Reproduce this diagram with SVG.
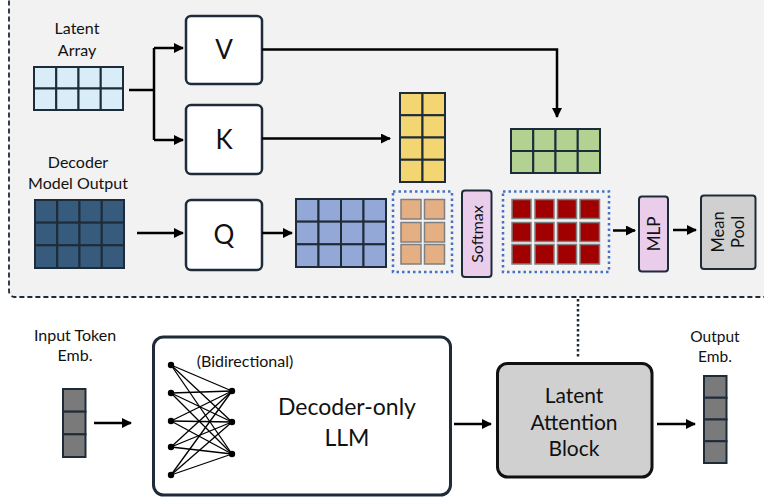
<svg xmlns="http://www.w3.org/2000/svg" width="764" height="499" viewBox="0 0 764 499">
<defs>
<marker id="ah" viewBox="0 0 10 10" refX="9" refY="5" markerWidth="4" markerHeight="4" orient="auto" markerUnits="strokeWidth">
<path d="M0,0 L10,5 L0,10 Z" fill="#000"/>
</marker>
<style>
.t{font-family:Lato,"Open Sans","Liberation Sans",sans-serif;fill:#111;text-anchor:middle}
.box{fill:#fff;stroke:#1e2b38;stroke-width:2.5}
.c{stroke:#1e2b38;stroke-width:2}
.lat{fill:#d9edf9}
.dk{fill:#365b7c}
.bl{fill:#94a8d8}
.ye{fill:#f3d672}
.gr{fill:#b3d190}
.gy{fill:#7a7a7a}
.or{fill:#e4af82;stroke:#7f7f7f;stroke-width:1.5}
.rd{fill:#a00000;stroke:#7f7f7f;stroke-width:1.5}
.dot{fill:none;stroke:#4472c4;stroke-width:2.5;stroke-dasharray:2.5 3}
.pk{fill:#e9cdea;stroke:#1e2b38;stroke-width:2}
.ln{fill:none;stroke:#000;stroke-width:2.5}
.net{stroke:#000;stroke-width:1.3}
</style>
</defs>
<rect x="9" y="-6" width="770" height="303" rx="6" fill="#f2f2f2" stroke="#1e2b38" stroke-width="1.8" stroke-dasharray="5 3"/>

<g id="latent-array">
<text class="t" x="77" y="34" font-size="16">Latent</text>
<text class="t" x="77" y="56" font-size="16">Array</text>
<g class="lat c">
<rect x="34" y="67" width="22.25" height="21.5"/><rect x="56.25" y="67" width="22.25" height="21.5"/><rect x="78.5" y="67" width="22.25" height="21.5"/><rect x="100.75" y="67" width="22.25" height="21.5"/>
<rect x="34" y="88.5" width="22.25" height="21.5"/><rect x="56.25" y="88.5" width="22.25" height="21.5"/><rect x="78.5" y="88.5" width="22.25" height="21.5"/><rect x="100.75" y="88.5" width="22.25" height="21.5"/>
</g>
</g>

<g id="decoder-output">
<text class="t" x="78" y="168" font-size="16">Decoder</text>
<text class="t" x="78" y="189" font-size="16">Model Output</text>
<g class="dk c">
<rect x="35" y="200" width="22.25" height="22.67"/><rect x="57.25" y="200" width="22.25" height="22.67"/><rect x="79.5" y="200" width="22.25" height="22.67"/><rect x="101.75" y="200" width="22.25" height="22.67"/>
<rect x="35" y="222.67" width="22.25" height="22.67"/><rect x="57.25" y="222.67" width="22.25" height="22.67"/><rect x="79.5" y="222.67" width="22.25" height="22.67"/><rect x="101.75" y="222.67" width="22.25" height="22.67"/>
<rect x="35" y="245.33" width="22.25" height="22.67"/><rect x="57.25" y="245.33" width="22.25" height="22.67"/><rect x="79.5" y="245.33" width="22.25" height="22.67"/><rect x="101.75" y="245.33" width="22.25" height="22.67"/>
</g>
</g>

<g id="V"><rect class="box" x="186" y="16" width="76" height="68" rx="5"/><text class="t" x="224" y="59" font-size="26">V</text></g>
<g id="K"><rect class="box" x="186" y="105" width="76" height="69" rx="5"/><text class="t" x="224" y="149" font-size="26">K</text></g>
<g id="Q"><rect class="box" x="186" y="200" width="76" height="70" rx="5"/><text class="t" x="224" y="244" font-size="26">Q</text></g>

<g id="Q-out" class="bl c">
<rect x="296" y="199" width="22.5" height="22.67"/><rect x="318.5" y="199" width="22.5" height="22.67"/><rect x="341" y="199" width="22.5" height="22.67"/><rect x="363.5" y="199" width="22.5" height="22.67"/>
<rect x="296" y="221.67" width="22.5" height="22.67"/><rect x="318.5" y="221.67" width="22.5" height="22.67"/><rect x="341" y="221.67" width="22.5" height="22.67"/><rect x="363.5" y="221.67" width="22.5" height="22.67"/>
<rect x="296" y="244.33" width="22.5" height="22.67"/><rect x="318.5" y="244.33" width="22.5" height="22.67"/><rect x="341" y="244.33" width="22.5" height="22.67"/><rect x="363.5" y="244.33" width="22.5" height="22.67"/>
</g>

<g id="K-out" class="ye c">
<rect x="400" y="93" width="22.5" height="22.25"/><rect x="422.5" y="93" width="22.5" height="22.25"/>
<rect x="400" y="115.25" width="22.5" height="22.25"/><rect x="422.5" y="115.25" width="22.5" height="22.25"/>
<rect x="400" y="137.5" width="22.5" height="22.25"/><rect x="422.5" y="137.5" width="22.5" height="22.25"/>
<rect x="400" y="159.75" width="22.5" height="22.25"/><rect x="422.5" y="159.75" width="22.5" height="22.25"/>
</g>

<g id="V-out" class="gr c">
<rect x="511" y="129" width="22.25" height="22"/><rect x="533.25" y="129" width="22.25" height="22"/><rect x="555.5" y="129" width="22.25" height="22"/><rect x="577.75" y="129" width="22.25" height="22"/>
<rect x="511" y="151" width="22.25" height="22"/><rect x="533.25" y="151" width="22.25" height="22"/><rect x="555.5" y="151" width="22.25" height="22"/><rect x="577.75" y="151" width="22.25" height="22"/>
</g>

<g id="attn-scores">
<rect class="dot" x="393" y="191.5" width="59" height="80.5"/>
<rect class="or" x="401" y="199.5" width="20" height="19.5"/><rect class="or" x="424.5" y="199.5" width="20" height="19.5"/>
<rect class="or" x="401" y="222.5" width="20" height="19.5"/><rect class="or" x="424.5" y="222.5" width="20" height="19.5"/>
<rect class="or" x="401" y="244.5" width="20" height="19.5"/><rect class="or" x="424.5" y="244.5" width="20" height="19.5"/>
</g>

<g id="softmax"><rect class="pk" x="462" y="190.5" width="29.5" height="86.5" rx="3"/><text class="t" transform="translate(483,234) rotate(-90)" font-size="16">Softmax</text></g>

<g id="attn-out">
<rect class="dot" x="503" y="191.5" width="106" height="80.5"/>
<rect class="rd" x="512" y="199.5" width="19" height="19"/><rect class="rd" x="535" y="199.5" width="19" height="19"/><rect class="rd" x="557.5" y="199.5" width="19" height="19"/><rect class="rd" x="580" y="199.5" width="19.5" height="19"/>
<rect class="rd" x="512" y="222.5" width="19" height="19"/><rect class="rd" x="535" y="222.5" width="19" height="19"/><rect class="rd" x="557.5" y="222.5" width="19" height="19"/><rect class="rd" x="580" y="222.5" width="19.5" height="19"/>
<rect class="rd" x="512" y="244.5" width="19" height="19.5"/><rect class="rd" x="535" y="244.5" width="19" height="19.5"/><rect class="rd" x="557.5" y="244.5" width="19" height="19.5"/><rect class="rd" x="580" y="244.5" width="19.5" height="19.5"/>
</g>

<g id="MLP"><rect class="pk" x="639" y="196.5" width="29" height="75" rx="3"/><text class="t" transform="translate(660,234) rotate(-90)" font-size="17">MLP</text></g>

<g id="mean-pool"><rect x="701" y="195.5" width="54.5" height="73.5" rx="3" fill="#d0d0d0" stroke="#1e2b38" stroke-width="2"/>
<text class="t" transform="translate(724,232) rotate(-90)" font-size="16.5">Mean</text>
<text class="t" transform="translate(744,232) rotate(-90)" font-size="16.5">Pool</text></g>

<g id="input-emb">
<text class="t" x="75" y="341" font-size="16">Input Token</text>
<text class="t" x="75" y="361" font-size="16">Emb.</text>
<g class="gy c">
<rect x="63" y="389" width="22.5" height="22.67"/><rect x="63" y="411.67" width="22.5" height="22.67"/><rect x="63" y="434.33" width="22.5" height="22.67"/>
</g>
</g>

<g id="decoder-llm">
<rect x="153.5" y="337" width="297" height="158" rx="10" fill="#fff" stroke="#1e2b38" stroke-width="3"/>
<text class="t" x="245" y="367" font-size="16">(Bidirectional)</text>
<g class="net">
<line x1="171" y1="365" x2="232" y2="391"/><line x1="171" y1="365" x2="232" y2="422"/><line x1="171" y1="365" x2="232" y2="454"/>
<line x1="171" y1="393" x2="232" y2="391"/><line x1="171" y1="393" x2="232" y2="422"/><line x1="171" y1="393" x2="232" y2="454"/>
<line x1="171" y1="421" x2="232" y2="391"/><line x1="171" y1="421" x2="232" y2="422"/><line x1="171" y1="421" x2="232" y2="454"/>
<line x1="171" y1="447" x2="232" y2="391"/><line x1="171" y1="447" x2="232" y2="422"/><line x1="171" y1="447" x2="232" y2="454"/>
<line x1="171" y1="475" x2="232" y2="391"/><line x1="171" y1="475" x2="232" y2="422"/><line x1="171" y1="475" x2="232" y2="454"/>
</g>
<g fill="#000">
<circle cx="171" cy="365" r="3.2"/><circle cx="171" cy="393" r="3.2"/><circle cx="171" cy="421" r="3.2"/><circle cx="171" cy="447" r="3.2"/><circle cx="171" cy="475" r="3.2"/>
<circle cx="232" cy="391" r="3.2"/><circle cx="232" cy="422" r="3.2"/><circle cx="232" cy="454" r="3.2"/>
</g>
<text class="t" x="347" y="415" font-size="23">Decoder-only</text>
<text class="t" x="347" y="446" font-size="23">LLM</text>
</g>

<g id="latent-attention-block">
<rect x="497.5" y="363.5" width="154.5" height="113.5" rx="10" fill="#d0d0d0" stroke="#111" stroke-width="3"/>
<text class="t" x="574" y="403" font-size="21">Latent</text>
<text class="t" x="574" y="430" font-size="21">Attention</text>
<text class="t" x="574" y="456" font-size="21">Block</text>
</g>

<g id="output-emb">
<text class="t" x="715" y="342" font-size="15.5">Output</text>
<text class="t" x="715" y="362" font-size="15.5">Emb.</text>
<g class="gy c">
<rect x="704" y="376" width="22.5" height="21.75"/><rect x="704" y="397.75" width="22.5" height="21.75"/><rect x="704" y="419.5" width="22.5" height="21.75"/><rect x="704" y="441.25" width="22.5" height="21.75"/>
</g>
</g>

<g id="connectors">
<path class="ln" d="M129,90 H154 M154,48 V140"/>
<path class="ln" d="M154,48 H183" marker-end="url(#ah)"/>
<path class="ln" d="M154,140 H183" marker-end="url(#ah)"/>
<path class="ln" d="M137,233 H183" marker-end="url(#ah)"/>
<path class="ln" d="M262,233 H292" marker-end="url(#ah)"/>
<path class="ln" d="M262,49.5 H557 V117" marker-end="url(#ah)"/>
<path class="ln" d="M262,138.5 H390" marker-end="url(#ah)"/>
<path class="ln" d="M613,230.5 H635" marker-end="url(#ah)"/>
<path class="ln" d="M673,230 H696" marker-end="url(#ah)"/>
<path class="ln" d="M94,423 H131" marker-end="url(#ah)"/>
<path class="ln" d="M454,424 H491" marker-end="url(#ah)"/>
<path class="ln" d="M657,424 H695" marker-end="url(#ah)"/>
<path d="M578,299 V359" fill="none" stroke="#1e2b38" stroke-width="2.5" stroke-dasharray="2.5 2.5"/>
</g>
</svg>
